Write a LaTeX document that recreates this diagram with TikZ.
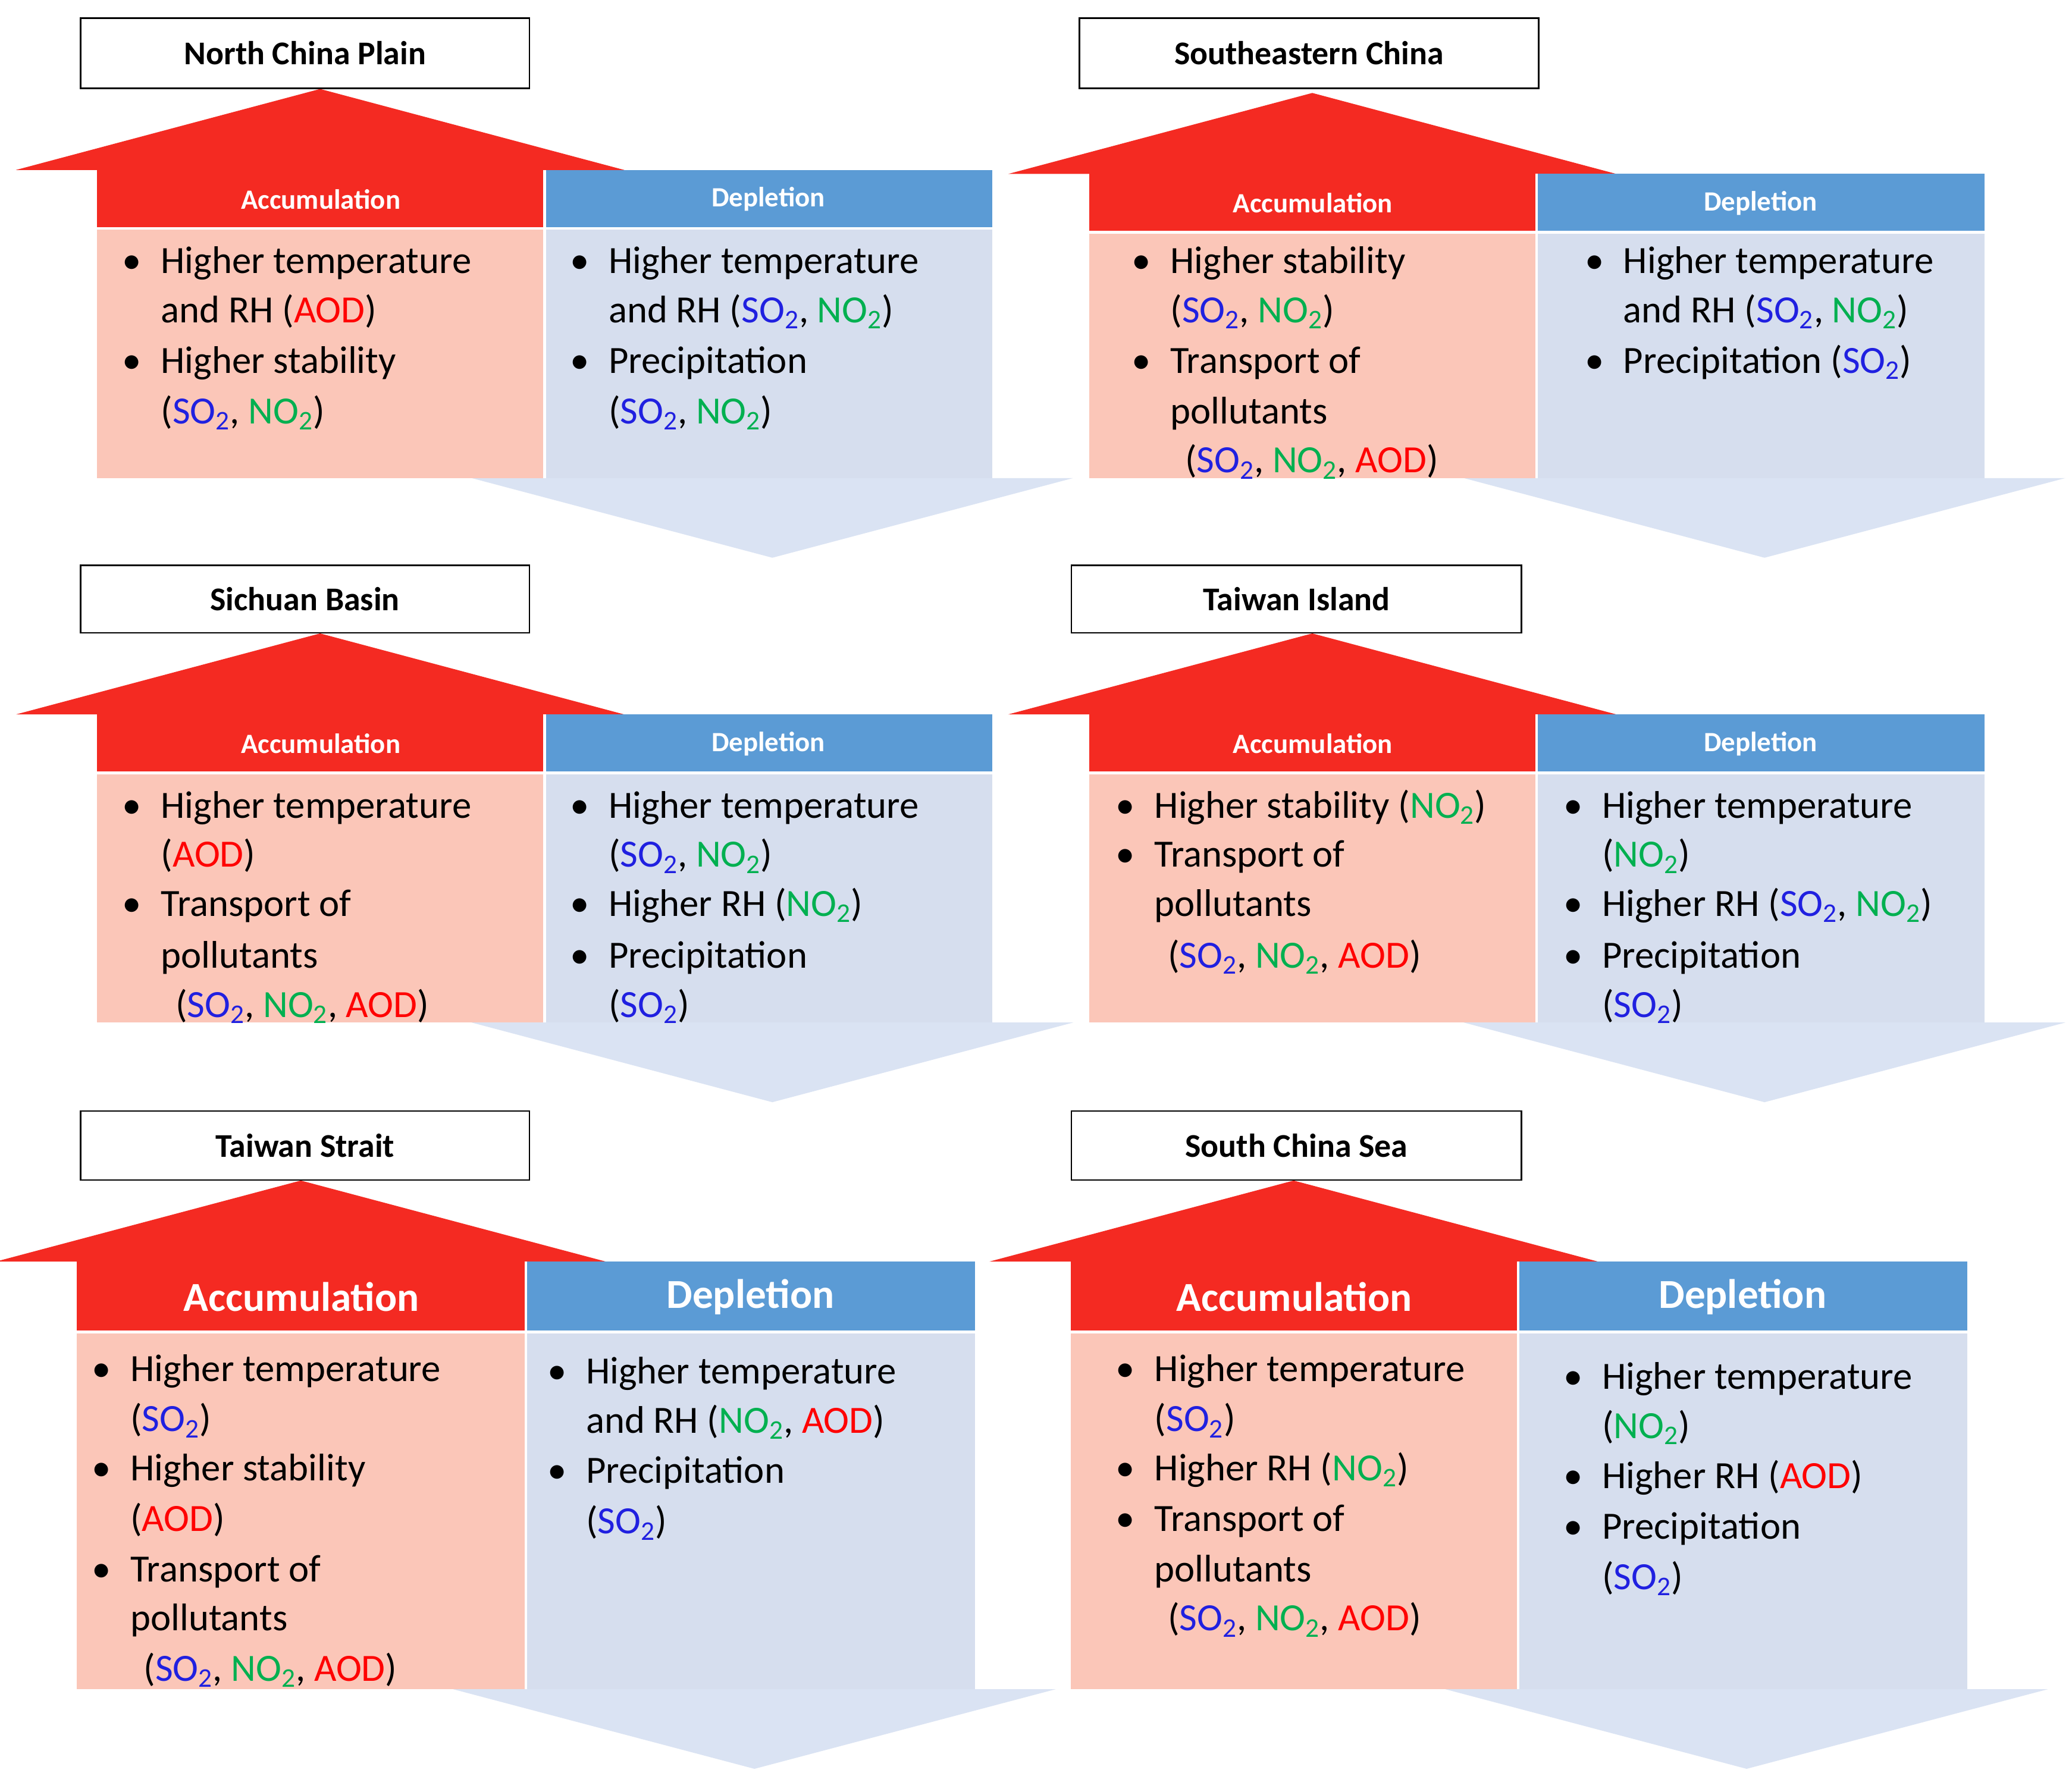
\documentclass[tikz,border=0pt]{standalone}
\usepackage{fontspec}
\setmainfont{Carlito}
\definecolor{redA}{HTML}{F42A22}
\definecolor{pinkB}{HTML}{FBC6B8}
\definecolor{blueH}{HTML}{5B9BD5}
\definecolor{blueB}{HTML}{D6DEEE}
\definecolor{blueD}{HTML}{DAE3F3}
\definecolor{cso}{HTML}{2020E0}
\definecolor{cno}{HTML}{00B050}
\definecolor{cao}{HTML}{FF0000}
\newcommand\mySO{\textcolor{cso}{SO\textsubscript{2}}}
\newcommand\myNO{\textcolor{cno}{NO\textsubscript{2}}}
\newcommand\myAO{\textcolor{cao}{AOD}}
\tikzset{
  ln/.style={anchor=base west,inner sep=0pt,font=\fontsize{29}{36}\selectfont},
  ttl/.style={draw=black,line width=1.2pt,fill=white},
  ttlt/.style={font=\fontsize{25}{30}\selectfont\bfseries},
  hd/.style={text=white,font=\fontsize{21}{26}\selectfont\bfseries},
  hdb/.style={text=white,font=\fontsize{31}{36}\selectfont\bfseries}
}
% \panel{xl}{xm}{xr}{yh}{yb}{ye}{header style}
\newcommand\panel[7]{%
  \fill[blueD] ({#2-55},#6) -- ({#3+61},#6) -- ({(#2-55+#3+61)/2},{#6+60}) -- cycle;
  \fill[redA] ({#1-61},#4) -- ({#2+60},#4) -- ({(#1-61+#2+60)/2},{#4-61}) -- cycle;
  \fill[redA] (#1,#4) rectangle (#2,#5);
  \fill[blueH] (#2,#4) rectangle (#3,#5);
  \fill[pinkB] (#1,#5) rectangle (#2,#6);
  \fill[blueB] (#2,#5) rectangle (#3,#6);
  \draw[white,line width=2pt] (#2,#4) -- (#2,#6) (#1,#5) -- (#3,#5);
  \node[#7] at ({(#1+#2)/2},{(#4+#5)/2}) {Accumulation};
  \node[#7] at ({(#2+#3)/2},{(#4+#5)/2}) {Depletion};
}
\newcommand\Bl[3]{\node[ln] at (#1,#2) {\textbullet}; \node[ln] at ({#1+29},#2) {#3};}
\newcommand\Ln[3]{\node[ln] at ({#1+29},#2) {#3};}
\newcommand\Lx[3]{\node[ln] at (#1,#2) {#3};}
\begin{document}
\begin{tikzpicture}[x=1pt,y=-1pt]
\useasboundingbox[fill=white] (0,0) rectangle (1560,1335);
\panel{73}{410}{747}{128}{172}{360}{hd}
\panel{820}{1157}{1494}{131}{175}{360}{hd}
\panel{73}{410}{747}{538}{582}{770}{hd}
\panel{820}{1157}{1494}{538}{582}{770}{hd}
\panel{58}{396}{734}{950}{1003}{1272}{hdb}
\panel{806}{1143}{1481}{950}{1003}{1272}{hdb}
% titles
\node[ttl,minimum width=338pt,minimum height=53pt,anchor=north west] (t1) at (60,13) {};
\node[ttlt] at (t1) {North China Plain};
\node[ttl,minimum width=346pt,minimum height=53pt,anchor=north west] (t2) at (812,13) {};
\node[ttlt] at (t2) {Southeastern China};
\node[ttl,minimum width=338pt,minimum height=51pt,anchor=north west] (t3) at (60,425) {};
\node[ttlt] at (t3) {Sichuan Basin};
\node[ttl,minimum width=339pt,minimum height=51pt,anchor=north west] (t4) at (806,425) {};
\node[ttlt] at (t4) {Taiwan Island};
\node[ttl,minimum width=338pt,minimum height=52pt,anchor=north west] (t5) at (60,836) {};
\node[ttlt] at (t5) {Taiwan Strait};
\node[ttl,minimum width=339pt,minimum height=52pt,anchor=north west] (t6) at (806,836) {};
\node[ttlt] at (t6) {South China Sea};
% P1
\Bl{92}{206}{Higher temperature}
\Ln{92}{243}{and RH (\myAO)}
\Bl{92}{281}{Higher stability}
\Ln{92}{319}{(\mySO, \myNO)}
\Bl{429}{206}{Higher temperature}
\Ln{429}{243}{and RH (\mySO, \myNO)}
\Bl{429}{281}{Precipitation}
\Ln{429}{319}{(\mySO, \myNO)}
% P2
\Bl{852}{206}{Higher stability}
\Ln{852}{243}{(\mySO, \myNO)}
\Bl{852}{281}{Transport of}
\Ln{852}{319}{pollutants}
\Lx{892}{356}{(\mySO, \myNO, \myAO)}
\Bl{1193}{206}{Higher temperature}
\Ln{1193}{243}{and RH (\mySO, \myNO)}
\Bl{1193}{281}{Precipitation (\mySO)}
% P3
\Bl{92}{616}{Higher temperature}
\Ln{92}{653}{(\myAO)}
\Bl{92}{690}{Transport of}
\Ln{92}{729}{pollutants}
\Lx{132}{766}{(\mySO, \myNO, \myAO)}
\Bl{429}{616}{Higher temperature}
\Ln{429}{653}{(\mySO, \myNO)}
\Bl{429}{690}{Higher RH (\myNO)}
\Bl{429}{729}{Precipitation}
\Ln{429}{766}{(\mySO)}
% P4
\Bl{840}{616}{Higher stability (\myNO)}
\Bl{840}{653}{Transport of}
\Ln{840}{690}{pollutants}
\Lx{879}{729}{(\mySO, \myNO, \myAO)}
\Bl{1177}{616}{Higher temperature}
\Ln{1177}{653}{(\myNO)}
\Bl{1177}{690}{Higher RH (\mySO, \myNO)}
\Bl{1177}{729}{Precipitation}
\Ln{1177}{766}{(\mySO)}
% P5
\Bl{69}{1040}{Higher temperature}
\Ln{69}{1078}{(\mySO)}
\Bl{69}{1115}{Higher stability}
\Ln{69}{1153}{(\myAO)}
\Bl{69}{1191}{Transport of}
\Ln{69}{1228}{pollutants}
\Lx{108}{1266}{(\mySO, \myNO, \myAO)}
\Bl{412}{1042}{Higher temperature}
\Ln{412}{1079}{and RH (\myNO, \myAO)}
\Bl{412}{1117}{Precipitation}
\Ln{412}{1155}{(\mySO)}
% P6
\Bl{840}{1040}{Higher temperature}
\Ln{840}{1078}{(\mySO)}
\Bl{840}{1115}{Higher RH (\myNO)}
\Bl{840}{1153}{Transport of}
\Ln{840}{1191}{pollutants}
\Lx{879}{1228}{(\mySO, \myNO, \myAO)}
\Bl{1177}{1046}{Higher temperature}
\Ln{1177}{1083}{(\myNO)}
\Bl{1177}{1121}{Higher RH (\myAO)}
\Bl{1177}{1159}{Precipitation}
\Ln{1177}{1197}{(\mySO)}
\end{tikzpicture}
\end{document}
